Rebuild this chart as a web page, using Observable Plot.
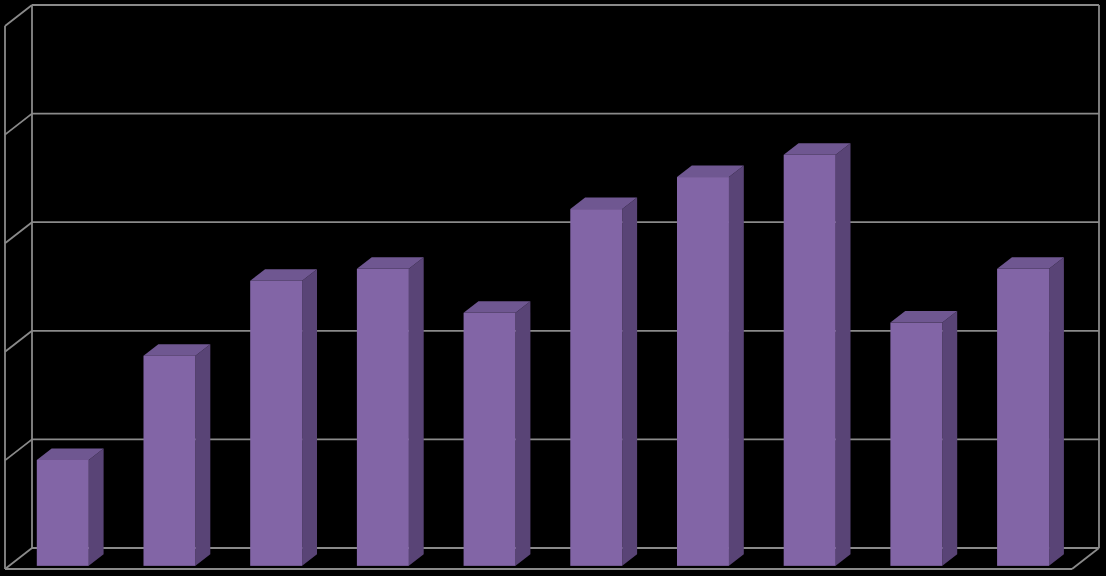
<!DOCTYPE html>
<html>
<head>
<meta charset="utf-8">
<script src="https://cdn.jsdelivr.net/npm/d3@7"></script>
<script src="https://cdn.jsdelivr.net/npm/@observablehq/plot@0.6"></script>
<style>
  html, body { margin: 0; padding: 0; background: #000; }
  #chart svg { display: block; }
</style>
</head>
<body>
<div id="chart"></div>
<script>
// ---- data ----
const categories = ["1", "2", "3", "4", "5", "6", "7", "8", "9", "10"];
const values = [19.5, 38.7, 52.5, 54.7, 46.6, 65.7, 71.6, 75.7, 44.8, 54.7];
const gridTicks = [0, 20, 40, 60, 80, 100];

const data = categories.map((c, i) => ({category: c, index: i, value: values[i]}));

// ---- 3D styling constants (screen pixels) ----
const DX = 27, DY = 21;          // full depth offset
const Z0 = 0.15, Z1 = 0.70;      // bar depth span
const BAR_START = 0.26, BAR_W = 0.487; // bar placement within each category slot
const GRID = "#8a8a8a";
const FRONT = "#8265a6", SIDE = "#594476", TOP = "#6f5791";

function proj(x, y, xv, yv, z) {
  return [x(xv) + z * DX, y(yv) - z * DY];
}

// walls / grid drawn through Plot's scales
function walls(index, scales) {
  const {x, y} = scales;
  const g = d3.create("svg:g").attr("fill", "none").attr("stroke", GRID).attr("stroke-width", 1.8);
  const n = categories.length;
  const top = gridTicks[gridTicks.length - 1];
  const seg = (a, b) => g.append("line").attr("x1", a[0]).attr("y1", a[1]).attr("x2", b[0]).attr("y2", b[1]);
  for (const t of gridTicks) {
    seg(proj(x, y, 0, t, 1), proj(x, y, n, t, 1));   // back wall gridline
    seg(proj(x, y, 0, t, 0), proj(x, y, 0, t, 1));   // left wall diagonal
  }
  seg(proj(x, y, 0, 0, 0), proj(x, y, 0, top, 0));   // left wall front edge
  seg(proj(x, y, 0, 0, 1), proj(x, y, 0, top, 1));   // back wall left edge
  seg(proj(x, y, n, 0, 1), proj(x, y, n, top, 1));   // back wall right edge
  seg(proj(x, y, 0, 0, 0), proj(x, y, n, 0, 0));     // floor front edge
  seg(proj(x, y, n, 0, 0), proj(x, y, n, 0, 1));     // floor right edge
  return g.node();
}

// bar sides and tops drawn through Plot's scales
function barFaces(index, scales) {
  const {x, y} = scales;
  const g = d3.create("svg:g");
  const poly = (pts, fill) => g.append("polygon").attr("points", pts.map(p => p.join(",")).join(" ")).attr("fill", fill);
  for (const d of data) {
    const xl = d.index + BAR_START, xr = xl + BAR_W;
    poly([proj(x, y, xr, 0, Z0), proj(x, y, xr, d.value, Z0), proj(x, y, xr, d.value, Z1), proj(x, y, xr, 0, Z1)], SIDE);
    poly([proj(x, y, xl, d.value, Z0), proj(x, y, xr, d.value, Z0), proj(x, y, xr, d.value, Z1), proj(x, y, xl, d.value, Z1)], TOP);
  }
  return g.node();
}

const chart = Plot.plot({
  width: 1106,
  height: 576,
  marginLeft: 5,
  marginRight: 34,
  marginTop: 26,
  marginBottom: 7,
  style: {background: "#000"},
  x: {type: "linear", domain: [0, categories.length], axis: null},
  y: {domain: [0, gridTicks[gridTicks.length - 1]], axis: null},
  marks: [
    walls,
    barFaces,
    Plot.rectY(data, {
      x1: d => d.index + BAR_START,
      x2: d => d.index + BAR_START + BAR_W,
      y: "value",
      fill: FRONT,
      dx: Z0 * DX,
      dy: -Z0 * DY
    })
  ]
});
document.getElementById("chart").appendChild(chart);
</script>
</body>
</html>
